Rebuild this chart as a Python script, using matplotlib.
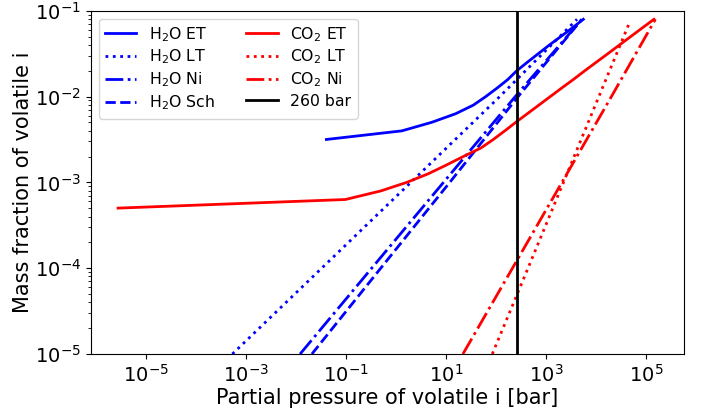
import numpy as np
import matplotlib
matplotlib.use("Agg")
import matplotlib.pyplot as plt

# H2O, empirical/thermodynamic (ET) curve: mass fraction vs partial pressure
h2o_et_w = [3.16e-3, 3.98e-3, 5.01e-3, 6.31e-3, 7.94e-3, 1.0e-2, 1.26e-2, 1.58e-2,
            2.0e-2, 2.51e-2, 3.16e-2, 3.98e-2, 5.01e-2, 6.31e-2, 7.94e-2]
h2o_et_p = [0.041, 1.32, 5.25, 15.8, 35.5, 63.1, 107, 174, 263, 427, 708, 1175,
            2000, 3390, 5620]

h2o_lt_w = [1.0e-5, 1.0e-4, 1.0e-3, 1.0e-2, 7.94e-2]
h2o_lt_p = [5.4e-4, 3.3e-2, 2.0, 120, 4200]

h2o_ni_w = [1.0e-5, 1.0e-4, 1.0e-3, 1.0e-2, 7.94e-2]
h2o_ni_p = [1.22e-2, 3.3e-1, 9.0, 245, 5250]

h2o_sch_w = [1.0e-5, 1.0e-4, 1.0e-3, 1.0e-2, 7.94e-2]
h2o_sch_p = [2.1e-2, 5.0e-1, 12.0, 280, 5250]

co2_et_w = [5.01e-4, 6.31e-4, 7.94e-4, 1.0e-3, 1.26e-3, 1.58e-3, 2.0e-3, 2.51e-3,
            3.16e-3, 3.98e-3, 5.01e-3, 6.31e-3, 7.94e-3, 1.0e-2, 1.26e-2, 1.58e-2,
            2.0e-2, 2.51e-2, 3.16e-2, 3.98e-2, 5.01e-2, 6.31e-2, 7.94e-2]
co2_et_p = [2.8e-6, 0.098, 0.50, 1.66, 4.47, 10.0, 22.4, 50.1, 89.1, 151, 251,
            427, 724, 1230, 2090, 3550, 6030, 10200, 17400, 29500, 50100, 85100,
            145000]

co2_lt_w = [1.0e-5, 1.0e-4, 1.0e-3, 1.0e-2, 7.59e-2]
co2_lt_p = [85, 440, 2250, 11500, 48500]

co2_ni_w = [1.0e-5, 1.0e-4, 1.0e-3, 1.0e-2, 7.94e-2]
co2_ni_p = [22, 215, 2100, 20500, 155000]

p_ref = 260

fig = plt.figure(figsize=(7.07, 4.18), dpi=100)
ax = fig.add_axes([0.1283, 0.1531, 0.8397, 0.8213])

lw = 2
ax.plot(h2o_et_p, h2o_et_w, color="blue", ls="-", lw=lw, label="H$_2$O ET")
ax.plot(h2o_lt_p, h2o_lt_w, color="blue", ls=":", lw=lw, label="H$_2$O LT")
ax.plot(h2o_ni_p, h2o_ni_w, color="blue", ls="-.", lw=lw, label="H$_2$O Ni")
ax.plot(h2o_sch_p, h2o_sch_w, color="blue", ls="--", lw=lw, label="H$_2$O Sch")
ax.plot(co2_et_p, co2_et_w, color="red", ls="-", lw=lw, label="CO$_2$ ET")
ax.plot(co2_lt_p, co2_lt_w, color="red", ls=":", lw=lw, label="CO$_2$ LT")
ax.plot(co2_ni_p, co2_ni_w, color="red", ls="-.", lw=lw, label="CO$_2$ Ni")
ax.axvline(p_ref, color="black", lw=lw, label=f"{p_ref} bar")

ax.set_xscale("log")
ax.set_yscale("log")
ax.set_xlim(10**-6.1, 10**5.77)
ax.set_ylim(1e-5, 1e-1)
ax.set_xticks([1e-5, 1e-3, 1e-1, 1e1, 1e3, 1e5])
ax.xaxis.set_minor_locator(matplotlib.ticker.NullLocator())
ax.tick_params(labelsize=14)
ax.set_xlabel("Partial pressure of volatile i [bar]", fontsize=15, labelpad=2)
ax.set_ylabel("Mass fraction of volatile i", fontsize=15, labelpad=1)
ax.legend(loc="upper left", ncol=2, fontsize=11.3, labelspacing=0.27,
          borderaxespad=0.5)

fig.savefig("out.png", dpi=100)
